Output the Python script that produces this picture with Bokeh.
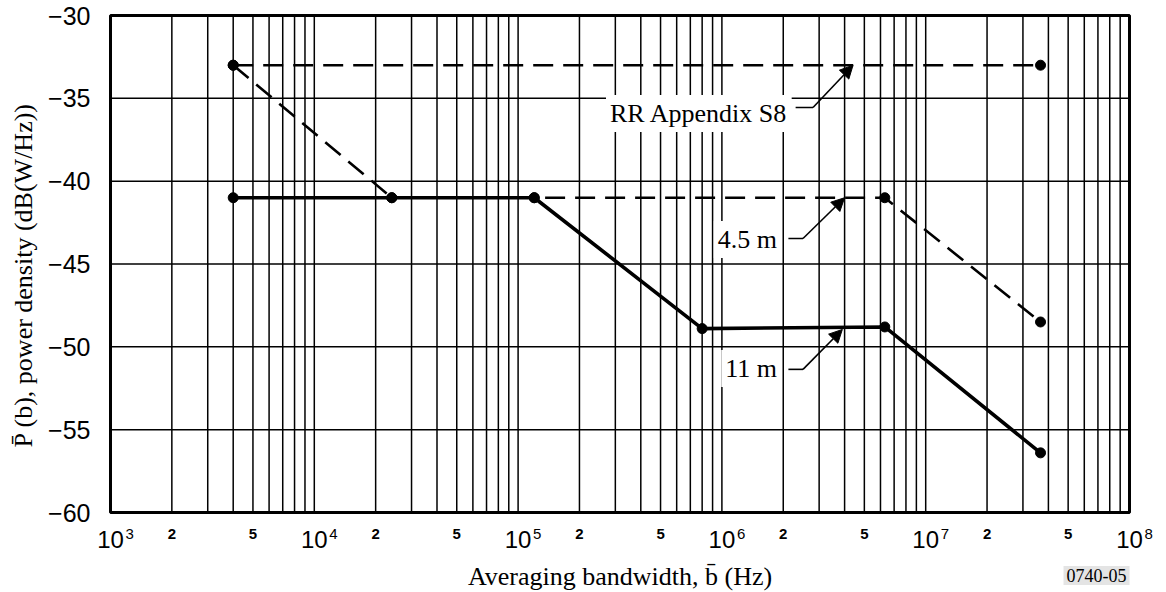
import math
from bokeh.plotting import figure
from bokeh.models import Label, Arrow, NormalHead, Range1d
from bokeh.embed import file_html
from bokeh.resources import INLINE

# ---------------- data ----------------
s8_x = [4.0e3, 3.66e7]
s8_y = [-33.0, -33.0]

m45_x = [4.0e3, 2.4e4, 1.2e5, 6.3e6, 3.66e7]
m45_y = [-33.0, -41.0, -41.0, -41.0, -48.5]

m11_x = [4.0e3, 2.4e4, 1.2e5, 8.0e5, 6.3e6, 3.66e7]
m11_y = [-41.0, -41.0, -41.0, -48.9, -48.8, -56.4]

y_ticks = [-60, -55, -50, -45, -40, -35, -30]
y_tick_labels = ["\u221260", "\u221255", "\u221250", "\u221245",
                 "\u221240", "\u221235", "\u221230"]

x_decades = [1e3, 1e4, 1e5, 1e6, 1e7, 1e8]
x_exponents = ["3", "4", "5", "6", "7", "8"]
x_sub_ticks = [2e3, 5e3, 2e4, 5e4, 2e5, 5e5, 2e6, 5e6, 2e7, 5e7]
x_sub_labels = ["2", "5", "2", "5", "2", "5", "2", "5", "2", "5"]

x_grid = [m * 10 ** e for e in range(3, 8) for m in range(1, 10)] + [1e8]

X_MIN, X_MAX = 1e3, 1e8
Y_MIN, Y_MAX = -60.0, -30.0

# ---------------- layout (pixels) ----------------
W, H = 1164, 592
BOX_L, BOX_R, BOX_T, BOX_B = 110, 1129, 15, 512
KX = (math.log10(X_MAX) - math.log10(X_MIN)) / (BOX_R - BOX_L)   # decades per px
KY = (Y_MAX - Y_MIN) / (BOX_B - BOX_T)                             # dB per px

def row(py):
    """pixel row -> data y (for placing texts outside the chart box)"""
    return Y_MAX - (py - BOX_T) * KY

SANS = "Liberation Sans"
SERIF = "Liberation Serif"

p = figure(width=W, height=H, x_axis_type="log",
           x_range=Range1d(10 ** (math.log10(X_MIN) - BOX_L * KX),
                           10 ** (math.log10(X_MAX) + (W - BOX_R) * KX)),
           y_range=Range1d(Y_MIN - (H - BOX_B) * KY, Y_MAX + BOX_T * KY),
           x_axis_location=None, y_axis_location=None,
           output_backend="svg", toolbar_location=None, min_border=0)
p.title.visible = False
p.grid.visible = False
p.outline_line_color = None
p.background_fill_color = "white"
p.border_fill_color = "white"

# ---------------- grid and box ----------------
p.segment(x0=x_grid, y0=[Y_MIN] * len(x_grid), x1=x_grid, y1=[Y_MAX] * len(x_grid),
          line_color="black", line_width=1.5)
p.segment(x0=[X_MIN] * len(y_ticks), y0=y_ticks, x1=[X_MAX] * len(y_ticks), y1=y_ticks,
          line_color="black", line_width=1.5)
p.quad(left=[X_MIN], right=[X_MAX], bottom=[Y_MIN], top=[Y_MAX],
       fill_color=None, line_color="black", line_width=3)

# ---------------- y tick labels ----------------
for yv, lb in zip(y_ticks, y_tick_labels):
    p.add_layout(Label(x=X_MIN, y=yv, x_offset=-20, text=lb, text_align="right",
                       text_baseline="middle", text_font=SANS,
                       text_font_size="25px", text_color="black"))

# ---------------- x tick labels ----------------
for xv, ex in zip(x_decades, x_exponents):
    p.add_layout(Label(x=xv, y=row(539), text="10", text_align="center",
                       text_baseline="middle", text_font=SANS,
                       text_font_size="24px", text_color="black"))
    p.add_layout(Label(x=xv, y=row(533), x_offset=15, text=ex, text_align="left",
                       text_baseline="middle", text_font=SANS,
                       text_font_size="15px", text_color="black"))
for xv, lb in zip(x_sub_ticks, x_sub_labels):
    p.add_layout(Label(x=xv, y=row(533), text=lb, text_align="center",
                       text_baseline="middle", text_font=SANS,
                       text_font_style="bold", text_font_size="15px",
                       text_color="black"))

# ---------------- axis titles ----------------
p.add_layout(Label(x=10 ** 5.5, y=row(576), text="Averaging bandwidth, b\u0304 (Hz)",
                   text_align="center", text_baseline="middle",
                   text_font=SERIF, text_font_size="26px", text_color="black"))
p.add_layout(Label(x=X_MIN, y=row(265), x_offset=-87, angle=math.pi / 2,
                   text="P\u0304 (b),  power  density  (dB(W/Hz))",
                   text_align="center", text_baseline="middle",
                   text_font=SERIF, text_font_size="26px", text_color="black"))

# ---------------- curves ----------------
p.line(m45_x, m45_y, line_color="black", line_width=2.6, line_dash="20 10")
p.line(s8_x, s8_y, line_color="black", line_width=2.6, line_dash="20 10")
p.line(m11_x, m11_y, line_color="black", line_width=3.6)
p.scatter(s8_x, s8_y, size=10, color="black")
p.scatter(m45_x, m45_y, size=10, color="black")
p.scatter(m11_x, m11_y, size=10, color="black")

# ---------------- callouts ----------------
ann = [
    # text, text_x, text_row(px), lead_x0, lead_x1, lead_y, tip_x, tip_y
    ("RR Appendix S8", 2.2e6, 113, 2.3e6, 2.8e6, -35.55, 4.4e6, -33.0),
    ("4.5 m", 1.95e6, 239, 2.12e6, 2.5e6, -43.46, 4.0e6, -41.0),
    ("11 m", 1.95e6, 368, 2.12e6, 2.5e6, -51.36, 3.9e6, -48.95),
]
for txt, tx, ty, lx0, lx1, ly, ax, ay in ann:
    p.add_layout(Label(x=tx, y=row(ty), text=txt, text_align="right",
                       text_baseline="middle", text_font=SERIF,
                       text_font_size="26px", text_color="black",
                       background_fill_color="white", padding=4))
    p.segment(x0=[lx0], y0=[ly], x1=[lx1], y1=[ly], line_color="black", line_width=1.6)
    p.add_layout(Arrow(end=NormalHead(size=13, fill_color="black",
                                      line_color="black", line_width=1),
                       x_start=lx1, y_start=ly, x_end=ax, y_end=ay,
                       line_color="black", line_width=1.6))

# ---------------- figure id ----------------
p.add_layout(Label(x=X_MAX, y=row(575), text="0740-05", text_align="right",
                   text_baseline="middle", text_font=SERIF,
                   text_font_size="18px", text_color="black",
                   background_fill_color="#e4e4e4", padding=3))

open("out.html", "w").write(file_html(p, INLINE))
